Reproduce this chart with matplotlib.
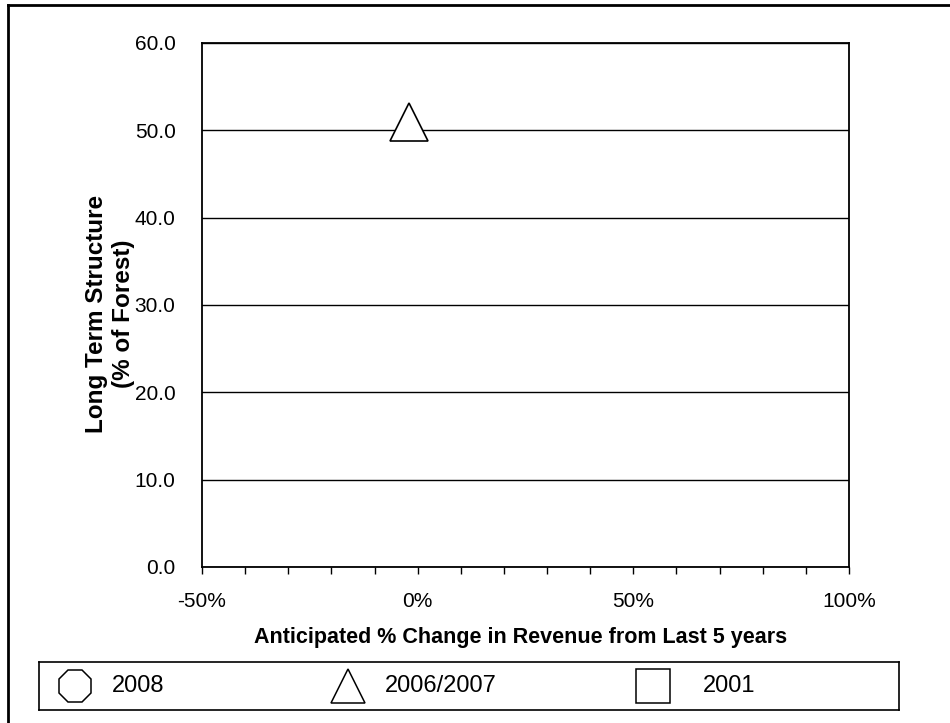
import matplotlib.pyplot as plt

plt.rcParams['font.family'] = ['Liberation Sans', 'DejaVu Sans']

# data
series = ["2008", "2006/2007", "2001"]
markers = ["8", "^", "s"]
x_change = [None, -2.0, None]     # anticipated % change in revenue
y_structure = [None, 51.0, None]  # long term structure, % of forest

x_ticks = list(range(-50, 101, 10))
x_labels = ["-50%" if v == -50 else "0%" if v == 0 else "50%" if v == 50 else "100%" if v == 100 else "" for v in x_ticks]
y_ticks = [0, 10, 20, 30, 40, 50, 60]

fig = plt.figure(figsize=(9.5, 7.23), dpi=100)
ax = fig.add_axes([202 / 950, 1 - 567 / 723, 647 / 950, 524 / 723])

for name, m, xv, yv in zip(series, markers, x_change, y_structure):
    if xv is not None:
        ax.plot([xv], [yv], linestyle="none", marker=m, markersize=27,
                markerfacecolor="white", markeredgecolor="black", markeredgewidth=1.2, zorder=5)

ax.set_xlim(-50, 100)
ax.set_ylim(0, 60)
ax.set_xticks(x_ticks)
ax.set_xticklabels(x_labels, fontsize=15)
ax.set_yticks(y_ticks)
ax.set_yticklabels([f"{v:.1f}" for v in y_ticks], fontsize=15)
ax.tick_params(axis="x", direction="out", length=5, width=1, pad=13)
ax.tick_params(axis="y", length=0, pad=19)
ax.yaxis.grid(True, color="black", linewidth=1)
ax.set_axisbelow(True)
for s in ax.spines.values():
    s.set_color("black")
    s.set_linewidth(1.3)

fig.text(521 / 950, 1 - 638 / 723, "Anticipated % Change in Revenue from Last 5 years",
         ha="center", va="center", fontsize=15.5, fontweight="bold")
fig.text(110 / 950, 1 - 314 / 723, "Long Term Structure\n(% of Forest)",
         ha="center", va="center", rotation=90, fontsize=17.5, fontweight="bold",
         linespacing=1.2, multialignment="center")

# legend box, drawn as its own small axes
lax = fig.add_axes([39 / 950, 1 - 710 / 723, 860 / 950, 48 / 723])
lax.set_xlim(39, 899)
lax.set_ylim(0, 1)
lax.set_xticks([])
lax.set_yticks([])
for s in lax.spines.values():
    s.set_color("black")
    s.set_linewidth(1.2)
marker_x = [75, 348, 653]
text_x = [112, 385, 703]
for name, m, mx, tx in zip(series, markers, marker_x, text_x):
    lax.plot([mx], [0.5], linestyle="none", marker=m, markersize=25,
             markerfacecolor="white", markeredgecolor="black", markeredgewidth=1.1)
    lax.text(tx, 0.5, name, ha="left", va="center", fontsize=17)

# outer chart frame (left and top edges visible)
fig.add_artist(plt.Line2D([8 / 950, 8 / 950], [0, 1 - 5 / 723], transform=fig.transFigure,
                          color="black", linewidth=2))
fig.add_artist(plt.Line2D([8 / 950, 1], [1 - 5 / 723, 1 - 5 / 723], transform=fig.transFigure,
                          color="black", linewidth=2))

fig.savefig("out.png", dpi=100)
